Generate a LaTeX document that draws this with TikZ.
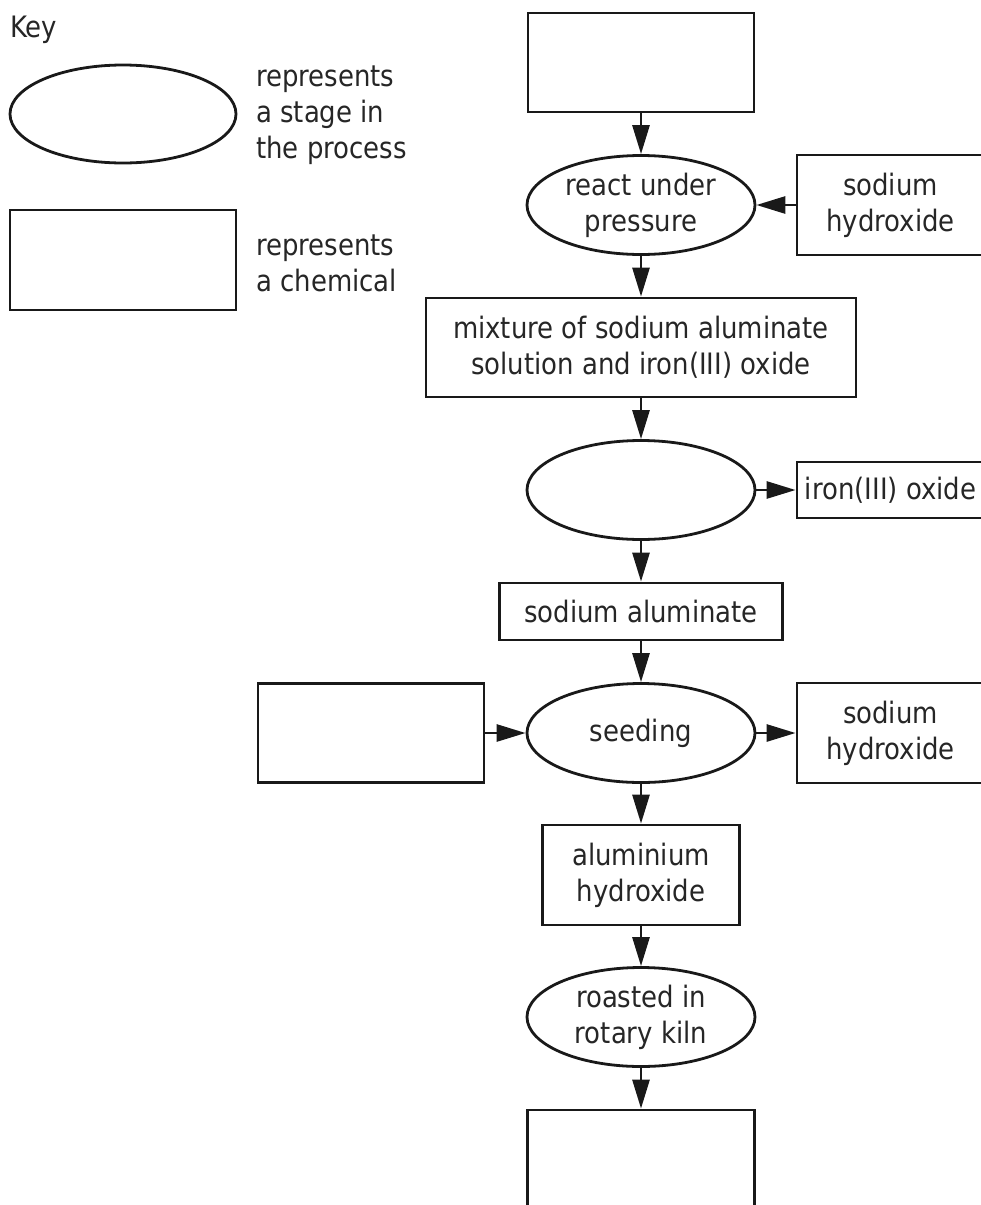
\documentclass[tikz,border=0pt]{standalone}
\usepackage{fontspec}
\setmainfont{DejaVu Sans}[FakeStretch=0.88]
\usetikzlibrary{arrows.meta,shapes.geometric}
\begin{document}
\begin{tikzpicture}[x=1pt,y=-1pt,
  every node/.style={font=\fontsize{29.5}{36}\selectfont, align=center, inner sep=0pt, text=black!85},
  stage/.style={draw=black!90, line width=2.8pt, ellipse, minimum width=228pt, minimum height=99pt},
  chem/.style 2 args={draw=black!90, line width=2.8pt, rectangle, minimum width=#1, minimum height=#2},
  flow/.style={draw=black!90, line width=2.8pt, -{Triangle[length=29pt,width=17pt]}},
  keytext/.style={anchor=west, align=left}]
\useasboundingbox (0,0) rectangle (981,1205);
\clip (0,0) rectangle (981,1205);
% key
\node[anchor=west] (key) at (10,30) {Key};
\node[stage, minimum width=226pt, minimum height=98pt] (kell) at (123,114) {};
\node[keytext] (kelltxt) at (256,115) {represents\\a stage in\\the process};
\node[chem={226pt}{100pt}] (krect) at (123,260) {};
\node[keytext] (krecttxt) at (256,263) {represents\\a chemical};
% main column
\node[chem={226pt}{99pt}] (top) at (641,62.5) {};
\node[stage] (e1) at (641,205) {react under\\pressure};
\node[chem={187pt}{100pt}] (naoh1) at (890.5,205) {sodium\\hydroxide};
\node[chem={430pt}{99pt}] (mix) at (641,347.5) {mixture of sodium aluminate\\solution and iron(III) oxide};
\node[stage] (e2) at (641,490) {};
\node[chem={187pt}{56pt}] (fe) at (890.5,490) {iron(III) oxide};
\node[chem={283pt}{57pt}] (sa) at (641,611.5) {sodium aluminate};
\node[stage] (e3) at (641,733) {seeding};
\node[chem={226pt}{99pt}] (left) at (371,733) {};
\node[chem={187pt}{100pt}] (naoh2) at (890.5,733) {sodium\\hydroxide};
\node[chem={197pt}{100pt}] (ah) at (641,875) {aluminium\\hydroxide};
\node[stage] (e4) at (641,1017) {roasted in\\rotary kiln};
\node[chem={227pt}{140pt}] (bot) at (641,1180) {};
% connectors
\draw[flow] (top.south) -- (e1.north);
\draw[flow] (naoh1.west) -- (e1.east);
\draw[flow] (e1.south) -- (mix.north);
\draw[flow] (mix.south) -- (e2.north);
\draw[flow] (e2.east) -- (fe.west);
\draw[flow] (e2.south) -- (sa.north);
\draw[flow] (sa.south) -- (e3.north);
\draw[flow] (left.east) -- (e3.west);
\draw[flow] (e3.east) -- (naoh2.west);
\draw[flow] (e3.south) -- (ah.north);
\draw[flow] (ah.south) -- (e4.north);
\draw[flow] (e4.south) -- (bot.north);
\end{tikzpicture}
\end{document}
